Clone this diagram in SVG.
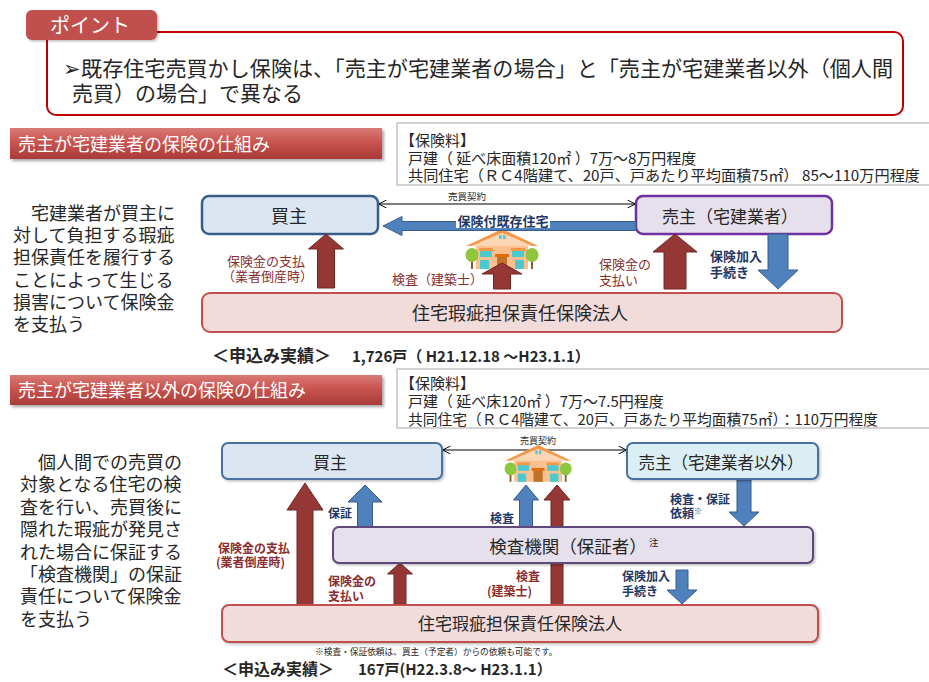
<svg xmlns="http://www.w3.org/2000/svg" width="929" height="682" viewBox="0 0 929 682">
<style>
  text { font-family: "Noto Sans CJK JP", "Noto Sans", sans-serif; fill: #262626; }
  .body { font-size: 18px; }
  .fee { font-size: 15px; }
  .node { font-size: 18px; text-anchor: middle; }
  .hdr { font-size: 18px; fill: #ffffff; }
  .lblR { font-size: 13px; fill: #8b2e2e; }
  .lblB { font-size: 13px; fill: #1f3864; font-weight: bold; }
  .lblR2 { font-size: 12px; fill: #8b2e2e; font-weight: bold; }
  .lblB2 { font-size: 12px; fill: #1f3864; font-weight: bold; }
  .small { font-size: 9.5px; }
  .rec { font-size: 17px; font-weight: bold; }
  .num { font-size: 15px; font-weight: bold; }
  .arrR { fill: #953735; stroke: #6e2624; stroke-width: 1; }
  .arrB { fill: #4f81bd; stroke: #385d8a; stroke-width: 1; }
  .feebox { fill: #ffffff; stroke: #a6a6a6; stroke-width: 1; }
  .contract { stroke: #000000; stroke-width: 1; fill: none; marker-start: url(#open); marker-end: url(#open); }
</style>
<defs>
  <marker id="open" viewBox="0 0 10 10" refX="9.5" refY="5" markerWidth="8" markerHeight="8" orient="auto-start-reverse" markerUnits="userSpaceOnUse">
    <path d="M0,0 L10,5 L0,10" fill="none" stroke="#000" stroke-width="1.2"/>
  </marker>
  <linearGradient id="barGrad" x1="0" y1="0" x2="0" y2="1">
    <stop offset="0" stop-color="#d97a76"/>
    <stop offset="0.45" stop-color="#c9544f"/>
    <stop offset="1" stop-color="#a83b37"/>
  </linearGradient>
  <filter id="shadow" x="-5%" y="-20%" width="110%" height="150%">
    <feDropShadow dx="2" dy="2" stdDeviation="1.5" flood-color="#000" flood-opacity="0.35"/>
  </filter>
  <filter id="soft" x="-5%" y="-20%" width="110%" height="150%">
    <feDropShadow dx="1.5" dy="1.5" stdDeviation="1.2" flood-color="#000" flood-opacity="0.25"/>
  </filter>
  <!-- small house with two trees, 72 x 40 -->
  <g id="house">
    <rect x="10" y="14" width="52" height="26" fill="#fbc08f"/>
    <polygon points="0,17 36,0 72,17 66,17 36,4 6,17" fill="#f79646"/>
    <polygon points="6,17 36,4 66,17" fill="#fcd5b4"/>
    <rect x="33" y="6" width="2.5" height="4" fill="#4bc9d0"/>
    <rect x="37" y="6" width="2.5" height="4" fill="#4bc9d0"/>
    <rect x="13" y="19" width="14" height="3" fill="#f79646"/>
    <rect x="45" y="19" width="14" height="3" fill="#f79646"/>
    <rect x="14" y="22" width="12" height="6" fill="#4bc9d0"/>
    <rect x="46" y="22" width="12" height="6" fill="#4bc9d0"/>
    <rect x="14" y="31" width="9" height="9" fill="#4bc9d0"/>
    <rect x="49" y="31" width="9" height="9" fill="#4bc9d0"/>
    <rect x="31" y="27" width="10" height="13" fill="#c0712c"/>
    <rect x="29" y="25" width="14" height="3" fill="#e46c0a"/>
    <rect x="5" y="30" width="2" height="10" fill="#8b5a2b"/>
    <rect x="65" y="30" width="2" height="10" fill="#8b5a2b"/>
    <ellipse cx="6" cy="26" rx="6.5" ry="7" fill="#8ec73d"/>
    <ellipse cx="66" cy="26" rx="6.5" ry="7" fill="#8ec73d"/>
  </g>
</defs>

<rect width="929" height="682" fill="#ffffff"/>

<!-- point box -->
<g id="point">
  <rect x="47" y="32" width="856" height="83" rx="9" fill="#ffffff" stroke="#c00000" stroke-width="2"/>
  <rect x="26" y="10" width="131" height="30" rx="6" fill="#c0504d" filter="url(#soft)"/>
  <text x="50" y="33" style="font-size:20px; fill:#ffffff">ポイント</text>
  <text x="63" y="76" style="font-size:21px" textLength="830" lengthAdjust="spacingAndGlyphs">➢既存住宅売買かし保険は、「売主が宅建業者の場合」と「売主が宅建業者以外（個人間</text>
  <text x="72" y="101" style="font-size:21px">売買）の場合」で異なる</text>
</g>

<!-- section 1 -->
<g id="header1">
  <rect x="10" y="128" width="372" height="31" fill="url(#barGrad)" filter="url(#shadow)"/>
  <text x="18" y="151" class="hdr">売主が宅建業者の保険の仕組み</text>
</g>
<g id="fee1">
  <rect x="397" y="123" width="540" height="62" class="feebox"/>
  <text x="400" y="146" class="fee">【保険料】</text>
  <text x="408" y="164" class="fee">戸建（ 延べ床面積120㎡ ）7万～8万円程度</text>
  <text x="408" y="181" class="fee" textLength="512" lengthAdjust="spacingAndGlyphs">共同住宅（ＲＣ4階建て、20戸、戸あたり平均面積75㎡） 85～110万円程度</text>
</g>
<g id="desc1">
  <text x="31" y="220" class="body">宅建業者が買主に</text>
  <text x="13" y="242" class="body">対して負担する瑕疵</text>
  <text x="13" y="264" class="body">担保責任を履行する</text>
  <text x="13" y="287" class="body">ことによって生じる</text>
  <text x="13" y="309" class="body">損害について保険金</text>
  <text x="13" y="331" class="body">を支払う</text>
</g>

<g id="buyer1">
  <rect x="202" y="196" width="176" height="38" rx="7" fill="#dce6f2" stroke="#385d8a" stroke-width="2.5"/>
  <text x="289" y="223" class="node">買主</text>
</g>
<g id="seller1">
  <rect x="636" y="196" width="196" height="38" rx="7" fill="#e6e0ec" stroke="#7030a0" stroke-width="2.5"/>
  <text x="730" y="223" class="node" style="font-size:17px">売主（宅建業者）</text>
</g>
<g id="insurer1">
  <rect x="202" y="293" width="640" height="39" rx="8" fill="#f2dcdb" stroke="#c0504d" stroke-width="2"/>
  <text x="520" y="320" class="node">住宅瑕疵担保責任保険法人</text>
</g>
<g id="house1">
  <use href="#house" transform="translate(466,229)"/>
</g>

<g id="connectors1">
  <line x1="379" y1="204" x2="635" y2="204" class="contract"/>
  <text x="467" y="200" class="small" text-anchor="middle">売買契約</text>
  <polygon points="383,226 402,216.5 402,221.5 636,221.5 636,230.5 402,230.5 402,235.5" class="arrB"/>
  <rect x="456" y="213" width="94" height="15" fill="#ffffff"/>
  <text x="503" y="226" class="lblB" text-anchor="middle">保険付既存住宅</text>
  <polygon points="326,234 343.5,249 334.5,249 334.5,288 317.5,288 317.5,249 308.5,249" class="arrR"/>
  <text x="227" y="266" class="lblR">保険金の支払</text>
  <text x="222" y="281" class="lblR">（業者倒産時）</text>
  <polygon points="502,263 522,274 510.5,274 510.5,289 493.5,289 493.5,274 482,274" class="arrR"/>
  <text x="392" y="284" class="lblR">検査（建築士）</text>
  <polygon points="675,234 697,252 686,252 686,289 664,289 664,252 653,252" class="arrR"/>
  <text x="599" y="269" class="lblR">保険金の</text>
  <text x="599" y="285" class="lblR">支払い</text>
  <polygon points="768,234 788,234 788,270 798,270 778,289 758,270 768,270" class="arrB"/>
  <text x="710" y="261" class="lblB">保険加入</text>
  <text x="710" y="277" class="lblB">手続き</text>
</g>

<g id="record1">
  <text x="212" y="362" class="rec">＜申込み実績＞</text>
  <text x="352" y="362" class="num">1,726戸（ H21.12.18 ～H23.1.1）</text>
</g>

<!-- section 2 -->
<g id="header2">
  <rect x="10" y="375" width="372" height="30" fill="url(#barGrad)" filter="url(#shadow)"/>
  <text x="18" y="397" class="hdr">売主が宅建業者以外の保険の仕組み</text>
</g>
<g id="fee2">
  <rect x="397" y="369" width="540" height="59" class="feebox"/>
  <text x="400" y="389" class="fee">【保険料】</text>
  <text x="408" y="407" class="fee">戸建（ 延べ床120㎡ ）7万～7.5円程度</text>
  <text x="408" y="425" class="fee" textLength="470" lengthAdjust="spacingAndGlyphs">共同住宅（ＲＣ4階建て、20戸、戸あたり平均面積75㎡）：110万円程度</text>
</g>
<g id="desc2">
  <text x="38" y="469" class="body">個人間での売買の</text>
  <text x="20" y="491" class="body">対象となる住宅の検</text>
  <text x="20" y="514" class="body">査を行い、売買後に</text>
  <text x="20" y="536" class="body">隠れた瑕疵が発見さ</text>
  <text x="20" y="559" class="body">れた場合に保証する</text>
  <text x="20" y="581" class="body">「検査機関」の保証</text>
  <text x="20" y="603" class="body">責任について保険金</text>
  <text x="20" y="626" class="body">を支払う</text>
</g>

<!-- connectors of section 2 sit below the boxes -->
<g id="connectors2">
  <line x1="443" y1="450" x2="626" y2="450" class="contract"/>
  <polygon points="305,483 323,510 313,510 313,605 297,605 297,510 287,510" class="arrR"/>
  <text x="218" y="553" class="lblR2">保険金の支払</text>
  <text x="216" y="567" class="lblR2">(業者倒産時)</text>
  <polygon points="365,485 382,502 372.5,502 372.5,527 357.5,527 357.5,502 348,502" class="arrB"/>
  <text x="328" y="518" class="lblB2">保証</text>
  <polygon points="526,485 538.5,500 532.5,500 532.5,527 519.5,527 519.5,500 513.5,500" class="arrB"/>
  <text x="490" y="523" class="lblB2">検査</text>
  <polygon points="557,485 570,500 563,500 563,605 551,605 551,500 544,500" class="arrR"/>
  <text x="516" y="581" class="lblR2">検査</text>
  <text x="487" y="596" class="lblR2">(建築士)</text>
  <polygon points="400,563 412.5,574 406,574 406,604 394,604 394,574 387.5,574" class="arrR"/>
  <text x="328" y="586" class="lblR2">保険金の</text>
  <text x="328" y="601" class="lblR2">支払い</text>
  <polygon points="737,480 751,480 751,512 759,512 744,526 729,512 737,512" class="arrB"/>
  <text x="670" y="504" class="lblB2">検査・保証</text>
  <text x="670" y="518" class="lblB2">依頼<tspan style="font-size:8px" dy="-4">※</tspan></text>
  <polygon points="676,570 688,570 688,590 697,590 682,604 667,590 676,590" class="arrB"/>
  <text x="622" y="581" class="lblB2">保険加入</text>
  <text x="622" y="596" class="lblB2">手続き</text>
</g>

<g id="buyer2">
  <rect x="222" y="443" width="220" height="36" rx="6" fill="#dce6f2" stroke="#4a6fa0" stroke-width="2" filter="url(#soft)"/>
  <text x="330" y="469" class="node" style="font-size:17px">買主</text>
</g>
<g id="seller2">
  <rect x="627" y="443" width="191" height="36" rx="6" fill="#daeef3" stroke="#4a6fa0" stroke-width="2" filter="url(#soft)"/>
  <text x="721" y="469" class="node" style="font-size:16.5px">売主（宅建業者以外）</text>
</g>
<g id="inspector">
  <rect x="333" y="527" width="480" height="36" rx="6" fill="#e5e0ec" stroke="#5f497a" stroke-width="2" filter="url(#soft)"/>
  <text x="568" y="553" class="node" style="font-size:17.5px">検査機関（保証者）</text>
  <text x="649" y="546" style="font-size:9.5px">注</text>
</g>
<g id="insurer2">
  <rect x="222" y="605" width="596" height="37" rx="7" fill="#f2dcdb" stroke="#c0504d" stroke-width="2" filter="url(#soft)"/>
  <text x="520" y="630" class="node" style="font-size:17px">住宅瑕疵担保責任保険法人</text>
</g>
<g id="house2">
  <use href="#house" transform="translate(505,445) scale(0.92)"/>
  <text x="538" y="444" class="small" text-anchor="middle" style="font-size:9px">売買契約</text>
</g>

<g id="note2">
  <text x="315" y="655" style="font-size:8.7px">※検査・保証依頼は、買主（予定者）からの依頼も可能です。</text>
</g>
<g id="record2">
  <text x="222" y="675" class="rec" style="font-size:16px">＜申込み実績＞</text>
  <text x="358" y="675" class="num">167戸(H22.3.8～ H23.1.1）</text>
</g>
</svg>
